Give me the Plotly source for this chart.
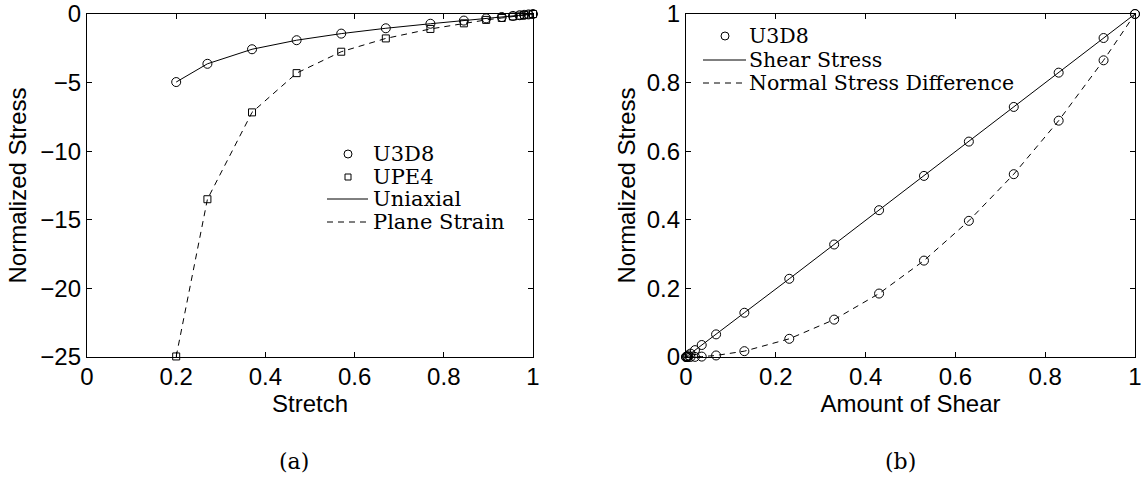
import plotly.graph_objects as go

# ---------------- data: panel (a) ----------------
stretch = [0.20, 0.27, 0.37, 0.47, 0.57, 0.67, 0.77, 0.845, 0.895, 0.93, 0.955, 0.97, 0.98, 0.99, 1.0]
uniaxial_stress = [-4.96, -3.63, -2.57, -1.91, -1.43, -1.04, -0.71, -0.48, -0.32, -0.22,
                   -0.14, -0.09, -0.06, -0.03, 0.0]
plane_strain_stress = [-24.96, -13.5, -7.17, -4.31, -2.75, -1.78, -1.09, -0.68, -0.43, -0.29,
                       -0.18, -0.12, -0.08, -0.04, 0.0]

# ---------------- data: panel (b) ----------------
shear_amount = [0.0, 0.0025, 0.005, 0.01, 0.02, 0.035, 0.067, 0.13, 0.23, 0.33, 0.43,
                0.53, 0.63, 0.73, 0.83, 0.93, 1.0]
shear_stress = [0.0, 0.0025, 0.005, 0.01, 0.02, 0.035, 0.066, 0.129, 0.228, 0.328, 0.428,
                0.528, 0.628, 0.729, 0.829, 0.93, 1.0]
normal_diff = [0.0, 0.0, 0.0, 0.0001, 0.0004, 0.0012, 0.0045, 0.017, 0.053, 0.109, 0.185,
               0.281, 0.397, 0.533, 0.689, 0.865, 1.0]

x_ticks_a = [0, 0.2, 0.4, 0.6, 0.8, 1]
y_ticks_a = [0, -5, -10, -15, -20, -25]
x_ticks_b = [0, 0.2, 0.4, 0.6, 0.8, 1]
y_ticks_b = [0, 0.2, 0.4, 0.6, 0.8, 1]

legend_a = ["U3D8", "UPE4", "Uniaxial", "Plane Strain"]
legend_b = ["U3D8", "Shear Stress", "Normal Stress Difference"]

W, H = 1147, 492
# plot area in page pixels: x 87..1135, y 14..357
ML, MR, MT, MB = 87, W - 1135, 14, H - 357
PW, PH = W - ML - MR, H - MT - MB
SANS = "Liberation Sans, Arial, sans-serif"
SERIF = "DejaVu Serif, serif"
DASH = "6px,5px"


def px_x(p):  # page pixel -> paper x
    return (p - ML) / PW


def px_y(p):  # page pixel -> paper y
    return 1 - (p - MT) / PH


fig = go.Figure()

circ = dict(symbol="circle-open", size=9, color="black", line=dict(width=1))
sq = dict(symbol="square-open", size=7, color="black", line=dict(width=1))

# panel (a)
fig.add_trace(go.Scatter(x=stretch, y=uniaxial_stress, mode="lines", name=legend_a[2],
                         line=dict(color="black", width=1), xaxis="x", yaxis="y"))
fig.add_trace(go.Scatter(x=stretch, y=plane_strain_stress, mode="lines", name=legend_a[3],
                         line=dict(color="black", width=1, dash=DASH), xaxis="x", yaxis="y"))
fig.add_trace(go.Scatter(x=stretch, y=uniaxial_stress, mode="markers", name=legend_a[0],
                         marker=circ, cliponaxis=False, xaxis="x", yaxis="y"))
fig.add_trace(go.Scatter(x=stretch, y=plane_strain_stress, mode="markers", name=legend_a[1],
                         marker=sq, cliponaxis=False, xaxis="x", yaxis="y"))

# panel (b)
fig.add_trace(go.Scatter(x=shear_amount, y=shear_stress, mode="lines", name=legend_b[1],
                         line=dict(color="black", width=1), xaxis="x2", yaxis="y2"))
fig.add_trace(go.Scatter(x=shear_amount, y=normal_diff, mode="lines", name=legend_b[2],
                         line=dict(color="black", width=1, dash=DASH), xaxis="x2", yaxis="y2"))
fig.add_trace(go.Scatter(x=shear_amount, y=shear_stress, mode="markers", name=legend_b[0],
                         marker=circ, cliponaxis=False, xaxis="x2", yaxis="y2"))
fig.add_trace(go.Scatter(x=shear_amount, y=normal_diff, mode="markers", name=legend_b[0],
                         marker=circ, cliponaxis=False, xaxis="x2", yaxis="y2"))

fig.update_traces(showlegend=False, hoverinfo="skip")

axis_common = dict(showline=True, linecolor="black", linewidth=1.3, mirror="ticks",
                   ticks="inside", ticklen=5, tickcolor="black", showgrid=False, zeroline=False,
                   automargin=False, tickfont=dict(family=SANS, size=24, color="black"))
title_font = dict(family=SANS, size=24, color="black")

fig.update_layout(
    width=W, height=H, margin=dict(l=ML, r=MR, t=MT, b=MB),
    paper_bgcolor="white", plot_bgcolor="white", showlegend=False,
    xaxis=dict(domain=[0, 446 / PW], range=[0, 1], tickvals=x_ticks_a,
               ticktext=[f"{v:g}" for v in x_ticks_a], anchor="y", ticklabelstandoff=-2,
               title=dict(text="Stretch", font=title_font, standoff=0), **axis_common),
    yaxis=dict(domain=[0, 1], range=[-25, 0], tickvals=y_ticks_a,
               ticktext=[f"\u2212{abs(v):g}" if v < 0 else f"{v:g}" for v in y_ticks_a], anchor="x",
               title=dict(text="Normalized Stress", font=title_font, standoff=6), **axis_common),
    xaxis2=dict(domain=[599 / PW, 1], range=[0, 1], tickvals=x_ticks_b,
                ticktext=[f"{v:g}" for v in x_ticks_b], anchor="y2", ticklabelstandoff=-2,
                title=dict(text="Amount of Shear", font=title_font, standoff=0), **axis_common),
    yaxis2=dict(domain=[0, 1], range=[0, 1], tickvals=y_ticks_b,
                ticktext=[f"{v:g}" for v in y_ticks_b], anchor="x2",
                title=dict(text="Normalized Stress", font=title_font, standoff=4), **axis_common),
)

# ---- hand-built legends (tight LaTeX-like line spacing) ----
shapes = []
annotations = []


def add_text(txt, x_px, y_px, size):
    annotations.append(dict(text=txt, x=px_x(x_px), y=px_y(y_px), xref="paper", yref="paper",
                            xanchor="left", yanchor="middle", showarrow=False,
                            font=dict(family=SERIF, size=size, color="black")))


def add_line(x0, x1, y, dash=None):
    shapes.append(dict(type="line", xref="paper", yref="paper", x0=px_x(x0), x1=px_x(x1),
                       y0=px_y(y), y1=px_y(y), line=dict(color="black", width=1, dash=dash)))


def add_symbol(kind, xc, yc, r):
    shapes.append(dict(type=kind, xref="paper", yref="paper", x0=px_x(xc - r), x1=px_x(xc + r),
                       y0=px_y(yc + r), y1=px_y(yc - r), line=dict(color="black", width=1)))


# legend (a)
rows_a = [154, 177, 199, 222]
add_symbol("circle", 348, rows_a[0], 4)
add_symbol("rect", 348, rows_a[1], 3)
add_line(327, 368, rows_a[2])
add_line(327, 368, rows_a[3], "6px,5px")
for name, row in zip(legend_a, rows_a):
    add_text(name, 371, row, 21)

# legend (b)
rows_b = [36, 60, 83]
add_symbol("circle", 725, rows_b[0], 4)
add_line(703, 746, rows_b[1])
add_line(703, 746, rows_b[2], "6px,5px")
for name, row in zip(legend_b, rows_b):
    add_text(name, 747, row, 20.5)

# captions
annotations.append(dict(text="(a)", x=px_x(294), y=px_y(461), xref="paper", yref="paper",
                        xanchor="center", yanchor="middle", showarrow=False,
                        font=dict(family=SERIF, size=22, color="black")))
annotations.append(dict(text="(b)", x=px_x(900), y=px_y(461), xref="paper", yref="paper",
                        xanchor="center", yanchor="middle", showarrow=False,
                        font=dict(family=SERIF, size=22, color="black")))

fig.update_layout(shapes=shapes, annotations=annotations)

fig.write_html("out.html", config={"displayModeBar": False},
               post_script="document.body.style.margin='0';document.body.style.padding='0';")
